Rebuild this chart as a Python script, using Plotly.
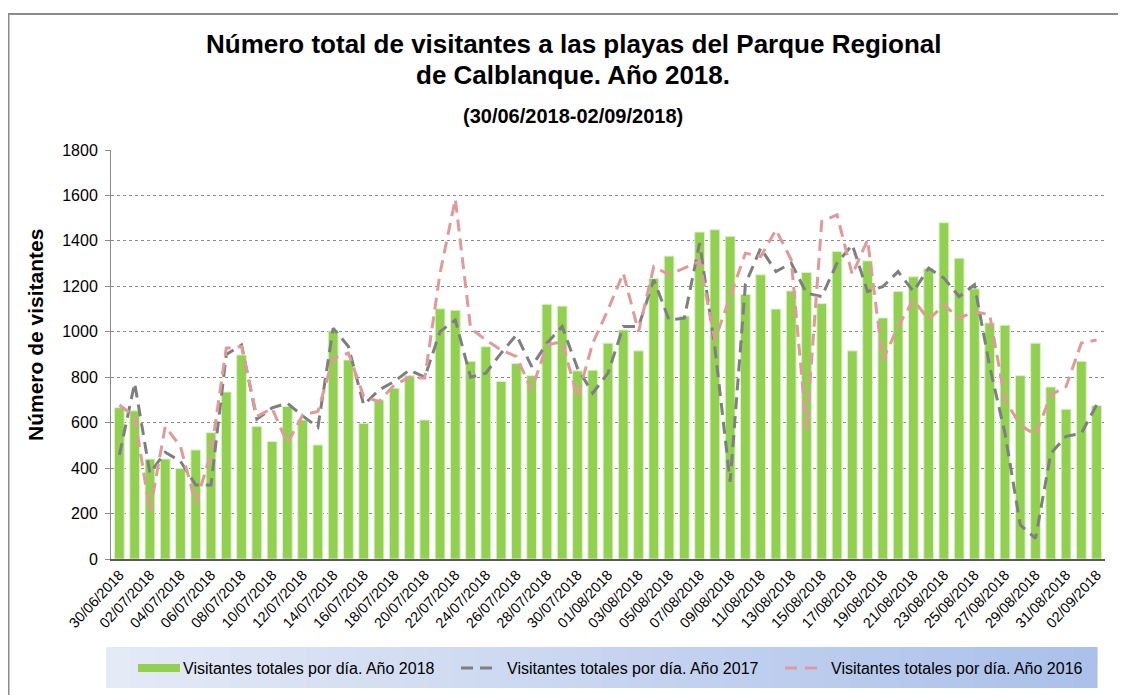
import plotly.graph_objects as go
import pandas as pd

# ---------------- data ----------------
dates = [d.strftime("%d/%m/%Y") for d in pd.date_range("2018-06-30", "2018-09-02", freq="D")]

visitors_2018 = [666, 652, 440, 440, 398, 480, 556, 735, 898, 583,
                 517, 671, 612, 502, 1004, 876, 597, 700, 752, 806,
                 612, 1101, 1095, 870, 934, 781, 860, 807, 1121, 1113,
                 828, 831, 950, 1008, 916, 1235, 1333, 1069, 1439, 1449,
                 1420, 1164, 1251, 1100, 1180, 1261, 1124, 1353, 916, 1312,
                 1061, 1177, 1242, 1277, 1480, 1324, 1189, 1039, 1029, 807,
                 950, 757, 659, 870, 675]

visitors_2017 = [458, 774, 377, 470, 430, 326, 326, 900, 942, 615,
                 665, 686, 630, 580, 1016, 935, 678, 744, 781, 832,
                 800, 1001, 1052, 800, 818, 906, 986, 847, 950, 1023,
                 840, 730, 818, 1023, 1023, 1229, 1052, 1060, 1390, 930,
                 340, 1210, 1368, 1265, 1302, 1170, 1155, 1302, 1383, 1177,
                 1199, 1265, 1177, 1280, 1236, 1155, 1207, 847, 553, 150,
                 91, 465, 540, 553, 678]

visitors_2016 = [678, 627, 208, 583, 495, 245, 465, 928, 935, 627,
                 663, 509, 634, 649, 884, 906, 715, 693, 766, 800,
                 796, 1258, 1584, 1016, 964, 920, 891, 744, 942, 957,
                 710, 950, 1097, 1258, 1001, 1287, 1251, 1280, 1310, 964,
                 1155, 1346, 1331, 1449, 1317, 568, 1486, 1515, 1251, 1405,
                 876, 1023, 1141, 1053, 1119, 1060, 1089, 1075, 700, 590,
                 546, 722, 759, 950, 964]

y_ticks = [0, 200, 400, 600, 800, 1000, 1200, 1400, 1600, 1800]
x_tick_labels = dates[::2]

title_line1 = "Número total de visitantes a las playas del Parque Regional"
title_line2 = "de Calblanque. Año 2018."
subtitle = "(30/06/2018-02/09/2018)"
y_title = "Número de visitantes"
legend_names = ["Visitantes totales por día. Año 2018",
                "Visitantes totales por día. Año 2017",
                "Visitantes totales por día. Año 2016"]

GREEN, GRAY, PINK = "#92D050", "#7F7F7F", "#E09A9A"

# ---------------- figure ----------------
fig = go.Figure()
fig.add_trace(go.Bar(
    x=dates, y=visitors_2018, name=legend_names[0],
    marker=dict(color=GREEN, line=dict(color="#DDF0CC", width=1)),
))
fig.add_trace(go.Scatter(
    x=dates, y=visitors_2017, name=legend_names[1], mode="lines",
    line=dict(color=GRAY, width=3, dash="12px,7px"),
))
fig.add_trace(go.Scatter(
    x=dates, y=visitors_2016, name=legend_names[2], mode="lines",
    line=dict(color=PINK, width=3, dash="12px,7px"),
))

OFF = 8  # page body margin
W, H = 1126 - OFF, 695 - OFF
PL, PR, PT, PB = 111, 1105, 150, 559  # plot area in page pixels
L, T = PL - OFF, PT - OFF
R = W - (PR - OFF)
B = H - (PB - OFF)
pw, ph = W - L - R, H - T - B

def px_x(p):
    return (p - OFF - L) / pw

def px_y(p):
    return (PB - p) / ph

shapes = []
# outer frame (only left and top visible)
shapes.append(dict(type="rect", xref="paper", yref="paper",
                   x0=px_x(8.5), x1=px_x(1160), y0=px_y(760), y1=px_y(14),
                   line=dict(color="#8C8C8C", width=2), fillcolor="rgba(0,0,0,0)", layer="below"))
# legend box with gradient
lx0, lx1, ly0, ly1 = 106, 1097, 647, 688
n = 40
c0 = (228, 234, 246)
c1 = (172, 193, 234)
for i in range(n):
    t = i / (n - 1)
    col = tuple(int(c0[k] + (c1[k] - c0[k]) * t) for k in range(3))
    xa = lx0 + (lx1 - lx0) * i / n
    xb = lx0 + (lx1 - lx0) * (i + 1) / n + 0.6
    shapes.append(dict(type="rect", xref="paper", yref="paper",
                       x0=px_x(xa), x1=px_x(xb), y0=px_y(ly1), y1=px_y(ly0),
                       line=dict(width=0), fillcolor="rgb(%d,%d,%d)" % col, layer="below"))

# legend symbols
LEG_Y = 668
shapes.append(dict(type="rect", xref="paper", yref="paper",
                   x0=px_x(138), x1=px_x(180), y0=px_y(LEG_Y + 4), y1=px_y(LEG_Y - 4),
                   line=dict(width=0), fillcolor=GREEN))
for (xa, xb, c) in [(461, 473, GRAY), (480, 492, GRAY), (785, 797, PINK), (805, 817, PINK)]:
    shapes.append(dict(type="line", xref="paper", yref="paper",
                       x0=px_x(xa), x1=px_x(xb), y0=px_y(LEG_Y), y1=px_y(LEG_Y),
                       line=dict(color=c, width=3)))

annotations = [
    dict(text="<b>" + title_line1 + "</b>", xref="paper", yref="paper",
         x=px_x(573), y=px_y(44), xanchor="center", yanchor="middle", showarrow=False,
         font=dict(family="Liberation Sans", size=26, color="#000000")),
    dict(text="<b>" + title_line2 + "</b>", xref="paper", yref="paper",
         x=px_x(573), y=px_y(75), xanchor="center", yanchor="middle", showarrow=False,
         font=dict(family="Liberation Sans", size=26, color="#000000")),
    dict(text="<b>" + subtitle + "</b>", xref="paper", yref="paper",
         x=px_x(573), y=px_y(116), xanchor="center", yanchor="middle", showarrow=False,
         font=dict(family="Liberation Sans", size=20, color="#000000")),
    dict(text="<b>" + y_title + "</b>", xref="paper", yref="paper",
         x=px_x(35), y=px_y(335), xanchor="center", yanchor="middle", showarrow=False,
         textangle=-90, font=dict(family="Liberation Sans", size=21, color="#000000")),
]
for name, xl in zip(legend_names, [181, 505, 829]):
    annotations.append(dict(text=name, xref="paper", yref="paper",
                            x=px_x(xl), y=px_y(LEG_Y), xanchor="left", yanchor="middle",
                            showarrow=False,
                            font=dict(family="Liberation Sans", size=16, color="#000000")))

fig.update_layout(
    width=W, height=H,
    margin=dict(l=L, r=R, t=T, b=B, autoexpand=False),
    paper_bgcolor="white", plot_bgcolor="white",
    font=dict(family="Liberation Sans", color="#000000"),
    bargap=0.36,
    showlegend=False,
    shapes=shapes,
    annotations=annotations,
    xaxis=dict(type="category", tickmode="array", tickvals=x_tick_labels, ticktext=x_tick_labels,
               tickangle=-47, tickfont=dict(size=14.5), showgrid=False,
               showline=True, linecolor="#595959", linewidth=1.5, ticks="",
               range=[-0.55, len(dates) - 0.45]),
    yaxis=dict(range=[0, 1800], tickvals=y_ticks, tickfont=dict(size=16),
               showgrid=True, gridcolor="#8C8C8C", griddash="dot", gridwidth=1,
               showline=True, linecolor="#8C8C8C", linewidth=1, ticks="outside", ticklen=5,
               tickcolor="#8C8C8C", zeroline=False, ticklabelstandoff=4),
)

fig.write_html("out.html")
